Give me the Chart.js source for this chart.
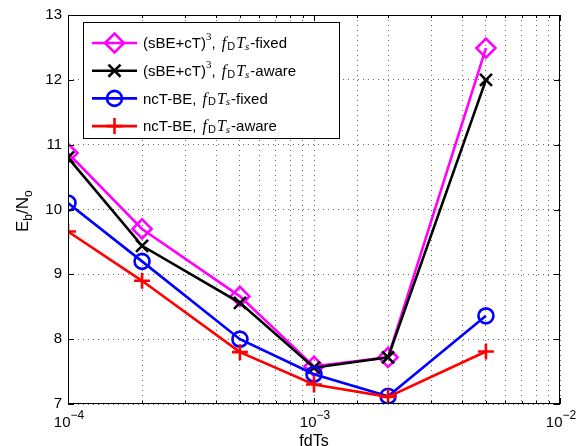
<!DOCTYPE html>
<html>
<head>
<meta charset="utf-8">
<script src="https://cdn.jsdelivr.net/npm/chart.js@4.4.1/dist/chart.umd.min.js"></script>
<style>
  body { margin: 0; background: #fff; }
  canvas { display: block; }
</style>
</head>
<body>
<canvas id="myChart" width="577" height="446"></canvas>
<script>
var fdTs = [1e-4, 2e-4, 5e-4, 1e-3, 2e-3, 5e-3];
var sbeFixed = [10.87, 9.7, 8.66, 7.58, 7.72, 12.49];
var sbeAware = [10.8, 9.44, 8.56, 7.56, 7.72, 12.0];
var nctFixed = [10.1, 9.2, 8.0, 7.46, 7.12, 8.36];
var nctAware = [9.66, 8.9, 7.8, 7.3, 7.11, 7.81];
var yTicks = [7, 8, 9, 10, 11, 12, 13];
var xDecades = [-4, -3, -2];
var legendNames = ['(sBE+cT)', '(sBE+cT)', 'ncT-BE', 'ncT-BE'];
var legendSuffix = ['-fixed', '-aware', '-fixed', '-aware'];

var SANS = '"Liberation Sans", Arial, sans-serif';
var SERIF = '"Liberation Serif", "Times New Roman", serif';

function points(ys) {
	return ys.map(function(y, i) { return { x: fdTs[i], y: y }; });
}

function makeSet(label, ys, color, style, radius, order) {
	return {
		label: label,
		data: points(ys),
		borderColor: color,
		backgroundColor: 'rgba(0,0,0,0)',
		borderWidth: 2.6,
		pointStyle: style,
		pointRadius: radius,
		pointBorderWidth: 2.6,
		pointBorderColor: color,
		pointBackgroundColor: 'rgba(0,0,0,0)',
		tension: 0,
		order: order
	};
}

// draws a row of text pieces with their own font and vertical shift
function drawRich(ctx, x, y, parts) {
	parts.forEach(function(p) {
		ctx.font = p.font;
		ctx.fillText(p.t, x, y + (p.dy || 0));
		x += ctx.measureText(p.t).width + (p.gap || 0);
	});
	return x;
}

function legendParts(i) {
	var parts = [{ t: legendNames[i], font: '15px ' + SANS }];
	if (i < 2) parts.push({ t: '3', font: '11px ' + SERIF, dy: -7 });
	parts.push({ t: ', ', font: '15px ' + SANS, gap: 2 });
	parts.push({ t: 'f', font: 'italic 16px ' + SERIF, gap: 1 });
	parts.push({ t: 'D', font: '11px ' + SANS, dy: 3, gap: 1 });
	parts.push({ t: 'T', font: 'italic 16px ' + SERIF });
	parts.push({ t: 's', font: 'italic 11px ' + SERIF, dy: 3, gap: 1 });
	parts.push({ t: legendSuffix[i], font: '15px ' + SANS });
	return parts;
}

var decorPlugin = {
	id: 'decor',
	afterDraw: function(chart) {
		var ctx = chart.ctx;
		var a = chart.chartArea;
		var xs = chart.scales.x, ys = chart.scales.y;
		ctx.save();

		// axes box and inner ticks
		ctx.strokeStyle = '#000';
		ctx.lineWidth = 1;
		ctx.strokeRect(a.left + 0.5, a.top + 0.5, a.right - a.left - 1, a.bottom - a.top - 1);
		ctx.beginPath();
		xs.ticks.forEach(function(t) {
			var px = Math.round(xs.getPixelForValue(t.value)) + 0.5;
			var len = t.major ? 6 : 3;
			ctx.moveTo(px, a.bottom); ctx.lineTo(px, a.bottom - len);
			ctx.moveTo(px, a.top); ctx.lineTo(px, a.top + len);
		});
		yTicks.forEach(function(v) {
			var py = Math.round(ys.getPixelForValue(v)) + 0.5;
			ctx.moveTo(a.left, py); ctx.lineTo(a.left + 6, py);
			ctx.moveTo(a.right, py); ctx.lineTo(a.right - 6, py);
		});
		ctx.stroke();

		// x tick labels 10^n
		ctx.fillStyle = '#000';
		ctx.textBaseline = 'alphabetic';
		xDecades.forEach(function(e) {
			var px = xs.getPixelForValue(Math.pow(10, e));
			var sup = '\u2212' + Math.abs(e);
			ctx.font = '15px ' + SANS;
			var w1 = ctx.measureText('10').width;
			ctx.font = '12px ' + SANS;
			var w2 = ctx.measureText(sup).width;
			drawRich(ctx, px - (w1 + w2) / 2 + 1, a.bottom + 23, [
				{ t: '10', font: '15px ' + SANS },
				{ t: sup, font: '12px ' + SANS, dy: -8 }
			]);
		});

		// axis titles
		ctx.font = '16px ' + SANS;
		ctx.textAlign = 'center';
		ctx.textBaseline = 'top';
		ctx.fillText('fdTs', (a.left + a.right) / 2, a.bottom + 30);

		ctx.save();
		ctx.translate(28, 210);
		ctx.rotate(-Math.PI / 2);
		ctx.textAlign = 'left';
		ctx.textBaseline = 'alphabetic';
		drawRich(ctx, -22, 0, [
			{ t: 'E', font: '17px ' + SANS },
			{ t: 'b', font: '12px ' + SANS, dy: 4 },
			{ t: '/N', font: '17px ' + SANS },
			{ t: 'o', font: '12px ' + SANS, dy: 4 }
		]);
		ctx.restore();

		// legend
		var bx = 83, by = 22, bw = 256, bh = 116;
		ctx.fillStyle = '#fff';
		ctx.fillRect(bx, by, bw, bh);
		ctx.strokeStyle = '#000';
		ctx.lineWidth = 1;
		ctx.strokeRect(bx + 0.5, by + 0.5, bw, bh);
		ctx.textAlign = 'left';
		ctx.textBaseline = 'middle';
		chart.data.datasets.forEach(function(ds, i) {
			var ry = 43 + i * 27.7;
			ctx.strokeStyle = ds.borderColor;
			ctx.fillStyle = 'rgba(0,0,0,0)';
			ctx.lineWidth = ds.borderWidth;
			ctx.beginPath();
			ctx.moveTo(92, ry); ctx.lineTo(137, ry);
			ctx.stroke();
			Chart.helpers.drawPoint(ctx, {
				pointStyle: ds.pointStyle,
				radius: ds.pointRadius,
				borderWidth: ds.pointBorderWidth,
				rotation: 0
			}, 114.5, ry);
			ctx.fillStyle = '#000';
			drawRich(ctx, 143, ry + 1, legendParts(i));
		});
		ctx.restore();
	}
};

var chartConfig = {
	type: 'line',
	data: {
		datasets: [
			makeSet('(sBE+cT)^3, fDTs-fixed', sbeFixed, '#ff00ff', 'rectRot', 9.5, 4),
			makeSet('(sBE+cT)^3, fDTs-aware', sbeAware, '#000000', 'crossRot', 8.5, 3),
			makeSet('ncT-BE, fDTs-fixed', nctFixed, '#0000ff', 'circle', 7.5, 2),
			makeSet('ncT-BE, fDTs-aware', nctAware, '#ff0000', 'cross', 8, 1)
		]
	},
	options: {
		responsive: false,
		animation: false,
		events: [],
		layout: { padding: { top: 15, right: 17, left: 0, bottom: 0 } },
		plugins: { legend: { display: false }, tooltip: { enabled: false } },
		scales: {
			x: {
				type: 'logarithmic',
				min: 1e-4,
				max: 1e-2,
				afterFit: function(s) { s.height = 42; },
				grid: { color: 'rgba(0,0,0,0.6)', lineWidth: 1, drawTicks: false },
				border: { display: false, dash: [1, 4] },
				ticks: { display: false, autoSkip: false }
			},
			y: {
				min: 7,
				max: 13,
				afterFit: function(s) { s.width = 68; },
				afterBuildTicks: function(s) {
					s.ticks = yTicks.map(function(v) { return { value: v }; });
				},
				grid: { color: 'rgba(0,0,0,0.6)', lineWidth: 1, drawTicks: false },
				border: { display: false, dash: [1, 4] },
				ticks: { color: '#000', padding: 6, font: { family: SANS, size: 15 } }
			}
		}
	},
	plugins: [decorPlugin]
};

var ctx = document.getElementById('myChart').getContext('2d');
var myChart = new Chart(ctx, chartConfig);
</script>
</body>
</html>
